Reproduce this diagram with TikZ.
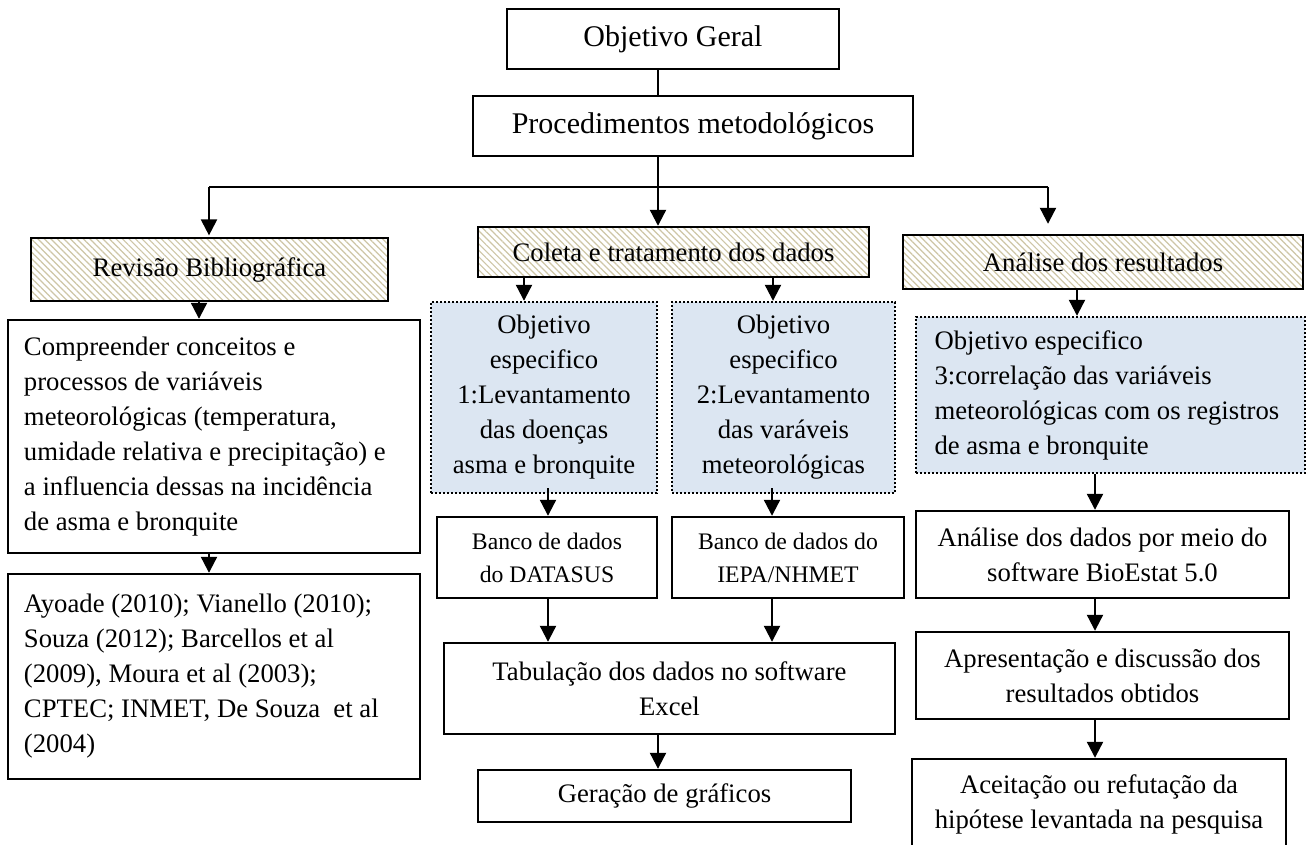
\documentclass[tikz,border=0pt]{standalone}
\usepackage{fontspec}
\setmainfont{Liberation Serif}
\usetikzlibrary{arrows.meta,patterns.meta}
\definecolor{objblue}{RGB}{220,230,242}
\definecolor{hatchc}{RGB}{206,198,166}
\newcommand\fs{\fontsize{13.35pt}{17.5pt}\selectfont}
\newcommand\fsl{\fontsize{15pt}{18pt}\selectfont}
\newcommand\fss{\fontsize{11.85pt}{16.5pt}\selectfont}
\newcommand\bx[7]{\node[#6, minimum width={(#4-#2)*0.5pt}, minimum height={(#5-#3)*0.5pt}] (#1) at ({(#2+#4)/2},{(#3+#5)/2}) {#7};}
\hyphenpenalty=10000
\exhyphenpenalty=10000
\hfuzz=30pt
\hbadness=10000
\tikzset{
  base/.style={inner sep=0pt, font=\fs},
  boxed/.style={base, draw, line width=1.2pt},
  hatch/.style={base, draw, line width=1.2pt, pattern={Lines[angle=-45,distance=2.3pt,line width=0.6pt]}, pattern color=hatchc},
  obj/.style={base, draw, fill=objblue, line width=1.2pt, dash pattern=on 1pt off 1pt},
  leftbox/.style={align=flush left, text width=#1},
  ln/.style={line width=1.1pt},
  arr/.style={line width=1.1pt, -{Triangle[length=8pt,width=8pt]}}
}
\begin{document}
\begin{tikzpicture}[x=0.5pt,y=-0.5pt]
\useasboundingbox (0,0) rectangle (1308,845);
\clip (0,0) rectangle (1308,845);
\fill[white] (0,0) rectangle (1308,845);
% nodes
\bx{og}{507}{9}{839}{69}{boxed, font=\fsl}{Objetivo Geral}
\bx{proc}{473}{96}{913}{156}{boxed, font=\fsl}{Procedimentos metodológicos}
\bx{rev}{31}{238}{388}{301}{hatch}{Revisão Bibliográfica}
\bx{col}{478}{227}{869}{277}{hatch}{Coleta e tratamento dos dados}
\bx{ana}{903}{235}{1303}{289}{hatch}{Análise dos resultados}
\bx{comp}{8}{320}{420}{553}{boxed, leftbox=190pt, inner xsep=8pt}{Compreender conceitos e\\processos de variáveis\\meteorológicas (temperatura,\\umidade relativa e precipitação) e\\a influencia dessas na incidência\\de asma e bronquite}
\bx{ayo}{8}{574}{420}{779}{boxed, leftbox=190pt, inner xsep=8pt}{Ayoade (2010); Vianello (2010);\\Souza (2012); Barcellos et al\\(2009), Moura et al (2003);\\CPTEC; INMET, De Souza~ et al\\(2004)}
\bx{o1}{431}{302}{657}{493}{obj, align=center}{Objetivo\\especifico\\1:Levantamento\\das doenças\\asma e bronquite}
\bx{o2}{672}{302}{895}{493}{obj, align=center}{Objetivo\\especifico\\2:Levantamento\\das varáveis\\meteorológicas}
\bx{o3}{916}{317}{1305}{473}{obj, leftbox=176pt, inner xsep=9pt}{Objetivo especifico\\3:correlação das variáveis\\meteorológicas com os registros\\de asma e bronquite}
\bx{b1}{437}{517}{657}{598}{boxed, align=center, font=\fss}{Banco de dados\\do DATASUS}
\bx{b2}{672}{517}{904}{598}{boxed, align=center, font=\fss}{Banco de dados do\\IEPA/NHMET}
\bx{tab}{444}{643}{895}{734}{boxed, align=center}{Tabulação dos dados no software\\Excel}
\bx{ger}{478}{770}{851}{822}{boxed}{Geração de gráficos}
\bx{adm}{916}{511}{1289}{598}{boxed, align=center}{Análise dos dados por meio do\\software BioEstat 5.0}
\bx{apr}{916}{632}{1289}{719}{boxed, align=center}{Apresentação e discussão dos\\resultados obtidos}
\bx{ace}{912}{759}{1286}{849}{boxed, align=center}{Aceitação ou refutação da\\hipótese levantada na pesquisa}
% helper columns
\coordinate (j) at (658,187);
\coordinate (bl) at (209,187);
\coordinate (br) at (1048,187);
\coordinate (c199) at (199,0);
\coordinate (c524) at (524,0);
\coordinate (c773) at (773,0);
\coordinate (c1077) at (1077,0);
\coordinate (c548) at (548,0);
\coordinate (c772) at (772,0);
\coordinate (c1095) at (1095,0);
% connectors
\draw[ln] (og.south -| j) -- (proc.north -| j);
\draw[ln] (proc.south -| j) -- (j);
\draw[ln] (bl) -- (br);
\draw[arr, shorten >=1pt] (bl) -- (rev.north -| bl);
\draw[arr] (j) -- (col.north -| j);
\draw[arr, shorten >=5pt] (br) -- (ana.north -| br);
\draw[arr] (rev.south -| c199) -- (comp.north -| c199);
\draw[arr] (comp.south -| bl) -- (ayo.north -| bl);
\draw[arr] (col.south -| c524) -- (o1.north -| c524);
\draw[arr] (col.south -| c773) -- (o2.north -| c773);
\draw[arr] (ana.south -| c1077) -- (o3.north -| c1077);
\draw[arr, shorten <=-3pt] (o1.south -| c548) -- (b1.north -| c548);
\draw[arr, shorten <=-3pt] (o2.south -| c772) -- (b2.north -| c772);
\draw[arr] (b1.south -| c548) -- (tab.north -| c548);
\draw[arr] (b2.south -| c772) -- (tab.north -| c772);
\draw[arr] (tab.south -| j) -- (ger.north -| j);
\draw[arr] (o3.south -| c1095) -- (adm.north -| c1095);
\draw[arr] (adm.south -| c1095) -- (apr.north -| c1095);
\draw[arr] (apr.south -| c1095) -- (ace.north -| c1095);
\end{tikzpicture}
\end{document}
